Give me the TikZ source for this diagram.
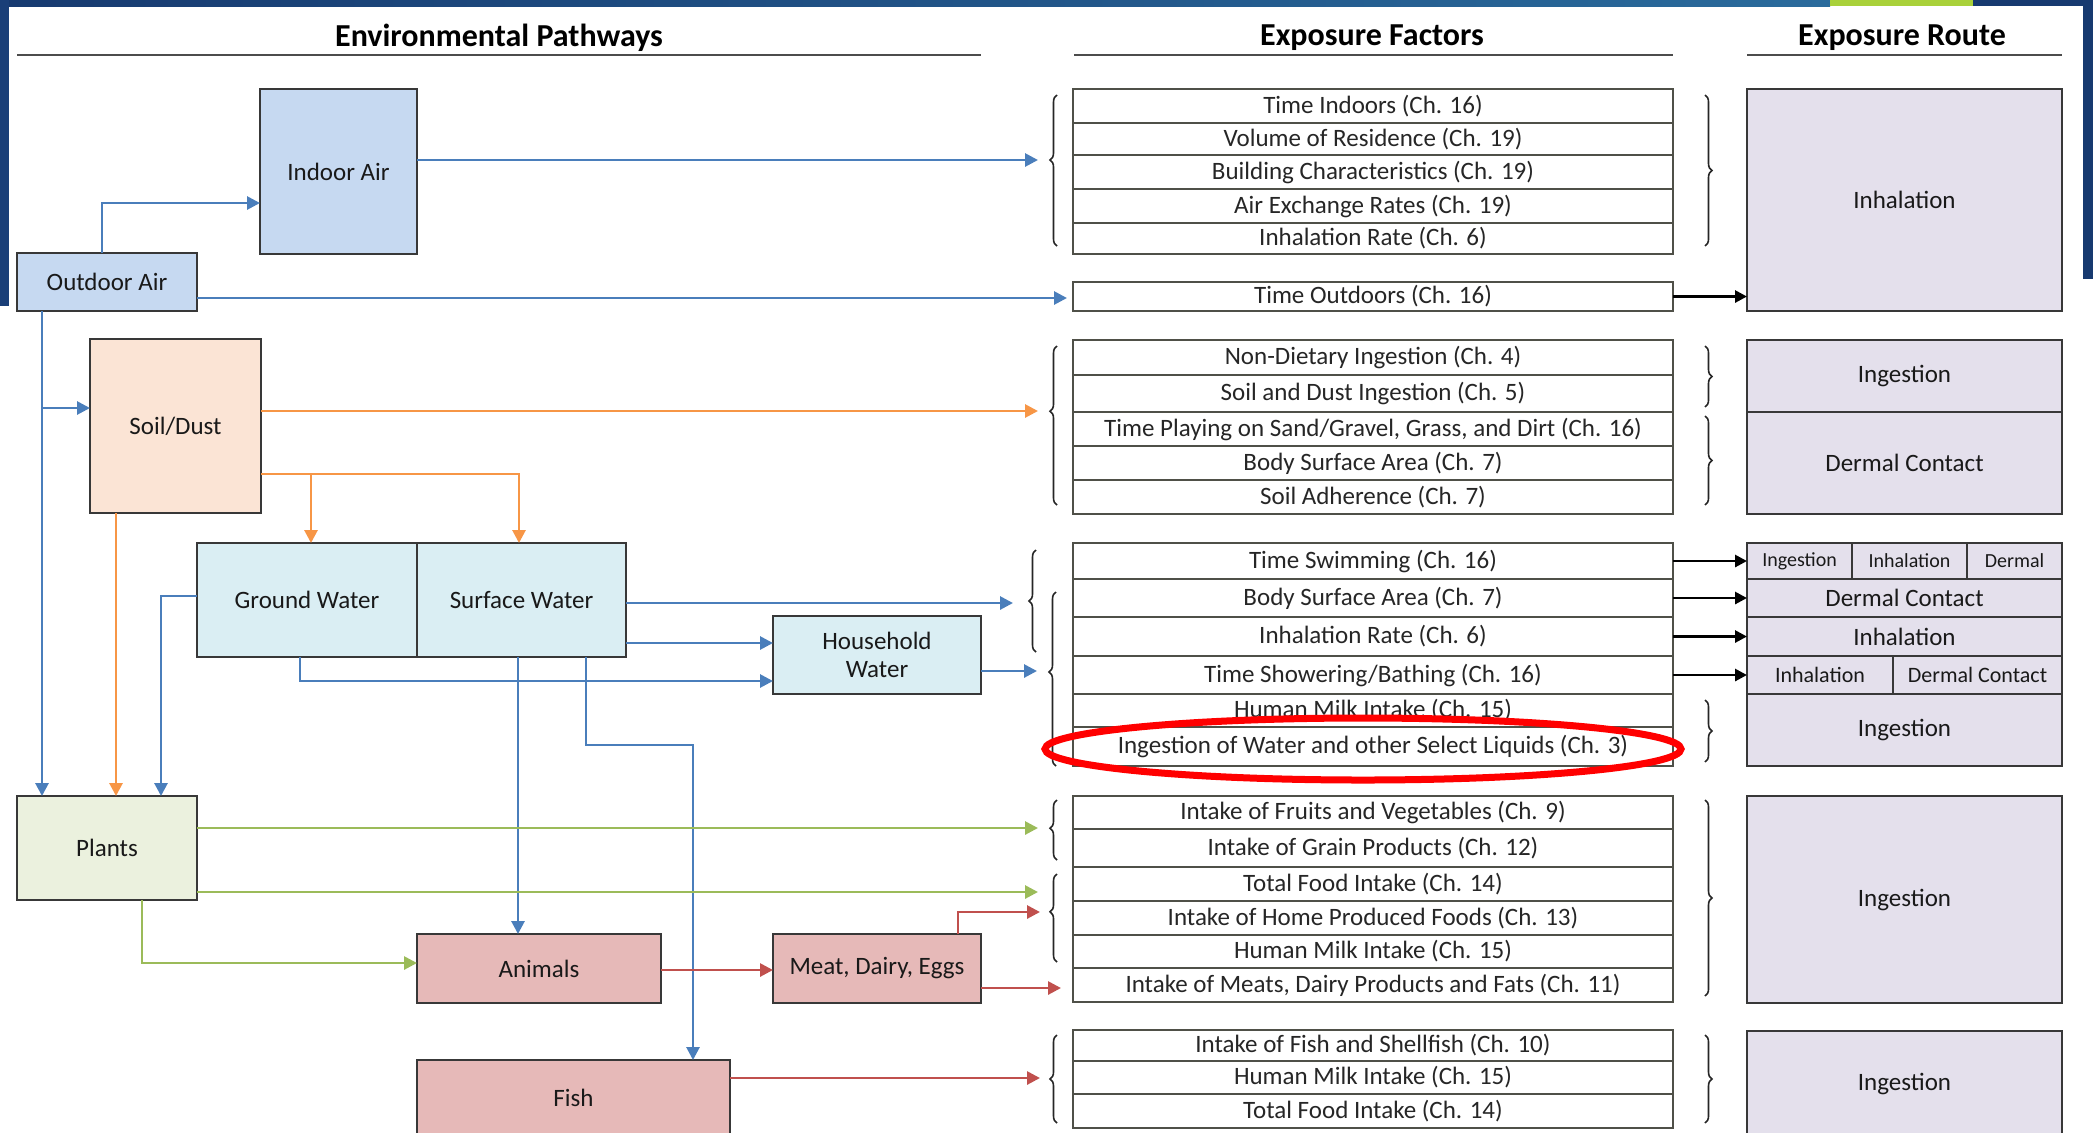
\documentclass[tikz,border=0pt]{standalone}
\usepackage{fontspec}
\setmainfont{Carlito}
\usetikzlibrary{arrows.meta,decorations.pathreplacing,calc}
\definecolor{airc}{HTML}{C6D9F1}
\definecolor{soilc}{HTML}{FBE4D5}
\definecolor{waterc}{HTML}{DAEEF3}
\definecolor{plantc}{HTML}{EBF1DE}
\definecolor{animc}{HTML}{E6B9B8}
\definecolor{routec}{HTML}{E4E0EC}
\definecolor{bluec}{HTML}{4A7EBB}
\definecolor{orangec}{HTML}{F79646}
\definecolor{greenc}{HTML}{9BBB59}
\definecolor{redc}{HTML}{C0504D}
\definecolor{facc}{HTML}{4F5048}
\definecolor{navyA}{HTML}{173A70}
\definecolor{navyB}{HTML}{2A6B9C}
\definecolor{navyC}{HTML}{1A3F78}
\definecolor{limec}{HTML}{A9D13A}
\newcommand\fs{\fontsize{12.5}{14}\selectfont}
\newcommand\fsm{\fontsize{10}{12}\selectfont}
\newcommand\fsn{\fontsize{11}{13}\selectfont}
\newcommand\ftitle{\fontsize{16}{19}\selectfont\bfseries}
\newcommand\mkbox[7]{\node[#6, minimum width={(#4-#2)*0.5pt}, minimum height={(#5-#3)*0.5pt}] (#1) at ({(#2+#4)/2},{(#3+#5)/2}) {#7};}
\newcommand\frow[4]{\node[fac, minimum height={(#3-#2)*0.5pt}] (#1) at (1373,{(#2+#3)/2}) {#4};}
\tikzset{
  box/.style={draw=black!78, line width=1.1pt, inner sep=0pt, outer sep=0pt, align=center, font=\fs, text=black!90},
  air/.style={box, fill=airc},
  soilb/.style={box, fill=soilc},
  water/.style={box, fill=waterc},
  plant/.style={box, fill=plantc},
  anim/.style={box, fill=animc},
  route/.style={box, fill=routec},
  fac/.style={draw=facc, line width=1.1pt, fill=white, inner sep=0pt, outer sep=0pt, minimum width=300pt, font=\fs, text=black!85},
  uline/.style={draw=black!70, line width=1pt},
  ab/.style={draw=bluec, line width=1.4pt, -{Triangle[length=6.5pt,width=6.5pt]}},
  oa/.style={draw=orangec, line width=1.4pt, -{Triangle[length=6.5pt,width=6.5pt]}},
  ga/.style={draw=greenc, line width=1.4pt, -{Triangle[length=6.5pt,width=6.5pt]}},
  ra/.style={draw=redc, line width=1.4pt, -{Triangle[length=6.5pt,width=6.5pt]}},
  ka/.style={draw=black, line width=1.4pt, -{Triangle[length=6pt,width=6pt]}},
  brc/.style={draw=black!85, line width=0.8pt, decorate, decoration={brace, amplitude=3.5pt, aspect=#1}},
  brc/.default=0.5
}
\begin{document}
\begin{tikzpicture}[x=0.5pt,y=-0.5pt]
\useasboundingbox (0,0) rectangle (2093,1132);
\clip (0,0) rectangle (2093,1132);
\fill[white] (0,0) rectangle (2093,1132);
% frame
\shade[left color=navyA, right color=navyB] (0,0) rectangle (1830,6);
\fill[limec] (1830,0) rectangle (1973,6);
\fill[navyA] (1973,0) rectangle (2093,6);
\fill[navyC] (0,0) rectangle (9,306);
\fill[navyA] (2083,0) rectangle (2093,279);
% titles
\node[font=\ftitle] (tenv) at (499,38) {Environmental Pathways};
\node[font=\ftitle] (tfac) at (1372,38) {Exposure Factors};
\node[font=\ftitle] (trou) at (1902,38) {Exposure Route};
\draw[uline] (17,55) -- (981,55);
\draw[uline] (1074,55) -- (1673,55);
\draw[uline] (1747,55) -- (2062,55);
% pathway boxes
\mkbox{indoor}{260}{89}{417}{254}{air}{Indoor Air}
\mkbox{outdoor}{17}{253}{197}{311}{air}{Outdoor Air}
\mkbox{soil}{90}{339}{261}{513}{soilb}{Soil/Dust}
\mkbox{gw}{197}{543}{417}{657}{water}{Ground Water}
\mkbox{sw}{417}{543}{626}{657}{water}{Surface Water}
\mkbox{hh}{773}{616}{981}{694}{water}{Household\\Water}
\mkbox{plants}{17}{796}{197}{900}{plant}{Plants}
\mkbox{animals}{417}{934}{661}{1003}{anim}{Animals}
\mkbox{meat}{773}{934}{981}{1003}{anim}{Meat, Dairy, Eggs}
\mkbox{fish}{417}{1060}{730}{1136}{anim}{Fish}
% exposure factors
\frow{f11}{89}{123}{Time Indoors (Ch. 16)}
\frow{f12}{123}{155}{Volume of Residence (Ch. 19)}
\frow{f13}{155}{189}{Building Characteristics (Ch. 19)}
\frow{f14}{189}{223}{Air Exchange Rates (Ch. 19)}
\frow{f15}{223}{254}{Inhalation Rate (Ch. 6)}
\frow{tout}{282}{311}{Time Outdoors (Ch. 16)}
\frow{f31}{340}{375}{Non-Dietary Ingestion (Ch. 4)}
\frow{f32}{375}{412}{Soil and Dust Ingestion (Ch. 5)}
\frow{f33}{412}{446}{Time Playing on Sand/Gravel, Grass, and Dirt (Ch. 16)}
\frow{f34}{446}{480}{Body Surface Area (Ch. 7)}
\frow{f35}{480}{514}{Soil Adherence (Ch. 7)}
\frow{f41}{543}{579}{Time Swimming (Ch. 16)}
\frow{f42}{579}{617}{Body Surface Area (Ch. 7)}
\frow{f43}{617}{656}{Inhalation Rate (Ch. 6)}
\frow{f44}{656}{694}{Time Showering/Bathing (Ch. 16)}
\frow{f45}{694}{727}{Human Milk Intake (Ch. 15)}
\frow{f46}{727}{766}{Ingestion of Water and other Select Liquids (Ch. 3)}
\frow{f51}{796}{829}{Intake of Fruits and Vegetables (Ch. 9)}
\frow{f52}{829}{867}{Intake of Grain Products (Ch. 12)}
\frow{f53}{867}{901}{Total Food Intake (Ch. 14)}
\frow{f54}{901}{935}{Intake of Home Produced Foods (Ch. 13)}
\frow{f55}{935}{968}{Human Milk Intake (Ch. 15)}
\frow{f56}{968}{1002}{Intake of Meats, Dairy Products and Fats (Ch. 11)}
\frow{f61}{1030}{1061}{Intake of Fish and Shellfish (Ch. 10)}
\frow{f62}{1061}{1094}{Human Milk Intake (Ch. 15)}
\frow{f63}{1094}{1128}{Total Food Intake (Ch. 14)}
% exposure routes
\mkbox{inh}{1747}{89}{2062}{311}{route}{Inhalation}
\mkbox{ing3}{1747}{340}{2062}{412}{route}{Ingestion}
\mkbox{derm3}{1747}{412}{2062}{514}{route}{Dermal Contact}
\mkbox{r41a}{1747}{543}{1852}{579}{route,font=\fsm}{Ingestion}
\mkbox{r41b}{1852}{543}{1967}{579}{route,font=\fsm}{Inhalation}
\mkbox{r41c}{1967}{543}{2062}{579}{route,font=\fsm}{Dermal}
\mkbox{r42}{1747}{579}{2062}{617}{route}{Dermal Contact}
\mkbox{r43}{1747}{617}{2062}{656}{route}{Inhalation}
\mkbox{r44a}{1747}{656}{1893}{694}{route,font=\fsn}{Inhalation}
\mkbox{r44b}{1893}{656}{2062}{694}{route,font=\fsn}{Dermal Contact}
\mkbox{r45}{1747}{694}{2062}{766}{route}{Ingestion}
\mkbox{ing5}{1747}{796}{2062}{1003}{route}{Ingestion}
\mkbox{ing6}{1747}{1031}{2062}{1136}{route}{Ingestion}
% braces
\draw[brc=0.57] (1057,246) -- (1057,95);
\draw[brc] (1705,95) -- (1705,246);
\draw[brc=0.59] (1057,505) -- (1057,346);
\draw[brc] (1705,346) -- (1705,407);
\draw[brc] (1705,416) -- (1705,505);
\draw[brc] (1036,652) -- (1036,550);
\draw[brc=0.54] (1056,766) -- (1056,592);
\draw[brc] (1705,700) -- (1705,762);
\draw[brc=0.53] (1057,860) -- (1057,800);
\draw[brc=0.57] (1057,962) -- (1057,874);
\draw[brc] (1705,800) -- (1705,996);
\draw[brc] (1057,1123) -- (1057,1035);
\draw[brc] (1705,1035) -- (1705,1123);
% arrow end points
\coordinate (e1) at (1038,160);
\coordinate (e3) at (1038,411);
\coordinate (e4a) at (1013,603);
\coordinate (e4b) at (1037,671);
\coordinate (e5a) at (1038,828);
\coordinate (e5b) at (1038,892);
\coordinate (e5c) at (1040,912);
\coordinate (e5d) at (1061,988);
\coordinate (e6) at (1040,1078);
\coordinate (e2) at (1067,298);
% blue connectors
\draw[ab] (indoor.east |- e1) -- (e1);
\draw[ab] (outdoor.east |- e2) -- (e2);
\draw[ab] (outdoor.north -| 102,0) |- (indoor.west |- 0,203);
\draw[ab] (outdoor.south -| 42,0) -- (plants.north -| 42,0);
\draw[ab] (42,408) -- (soil.west |- 0,408);
\draw[ab] (gw.west |- 0,596) -| (plants.north -| 161,0);
\draw[ab] (sw.east |- e4a) -- (e4a);
\draw[ab] (sw.east |- 0,643) -- (hh.west |- 0,643);
\draw[ab] (gw.south -| 300,0) |- (hh.west |- 0,681);
\draw[ab] (hh.east |- e4b) -- (e4b);
\draw[ab] (sw.south -| 518,0) -- (animals.north -| 518,0);
\draw[ab] (sw.south -| 586,0) |- (693,745) -- (fish.north -| 693,0);
% orange connectors
\draw[oa] (soil.east |- e3) -- (e3);
\draw[oa] (soil.east |- 0,474) -| (sw.north -| 519,0);
\draw[oa] (311,474) -- (gw.north -| 311,0);
\draw[oa] (soil.south -| 116,0) -- (plants.north -| 116,0);
% green connectors
\draw[ga] (plants.east |- e5a) -- (e5a);
\draw[ga] (plants.east |- e5b) -- (e5b);
\draw[ga] (plants.south -| 142,0) |- (animals.west |- 0,963);
% red connectors
\draw[ra] (animals.east |- 0,970) -- (meat.west |- 0,970);
\draw[ra] (meat.north -| 958,0) |- (e5c);
\draw[ra] (meat.east |- e5d) -- (e5d);
\draw[ra] (fish.east |- e6) -- (e6);
% black connectors to routes
\draw[ka] (tout.east) -- (inh.west |- tout.east);
\draw[ka] (f41.east) -- (r41a.west |- f41.east);
\draw[ka] (f42.east) -- (r42.west |- f42.east);
\draw[ka] (f43.east) -- (r43.west |- f43.east);
\draw[ka] (f44.east) -- (r44a.west |- f44.east);
% highlight
\draw[red, line width=3.5pt] (1363,749) ellipse [x radius=159pt, y radius=15.5pt];
\end{tikzpicture}
\end{document}
